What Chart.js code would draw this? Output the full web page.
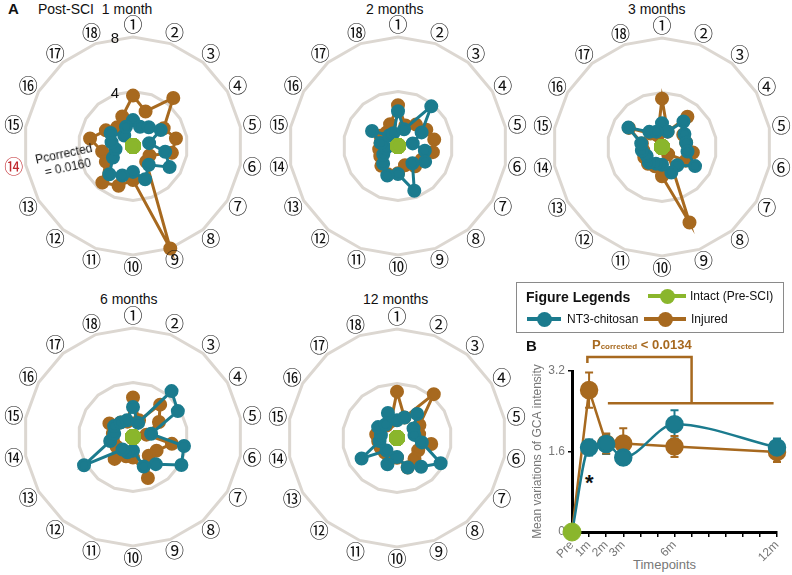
<!DOCTYPE html>
<html>
<head>
<meta charset="utf-8">
<script src="https://cdn.jsdelivr.net/npm/chart.js@4.4.0/dist/chart.umd.min.js"></script>
<style>
body { margin: 0; width: 792px; height: 575px; position: relative; overflow: hidden; background: #fff;
       font-family: "Liberation Sans", Arial, sans-serif; color: #111; }
.abs { position: absolute; white-space: nowrap; }
.ttl { position: absolute; font-size: 14px; white-space: nowrap; }
.radar { position: absolute; width: 270px; height: 270px; }
#legend { position: absolute; left: 516px; top: 282px; width: 266px; height: 49px; border: 1px solid #8a8a8a; }
.swatch { position: absolute; height: 4px; }
.swatch i { position: absolute; left: 50%; top: 50%; width: 15px; height: 15px; margin: -7.5px 0 0 -7.5px; border-radius: 50%; }
.lg { position: absolute; font-size: 12px; }
</style>
</head>
<body>

<!-- panel titles -->
<div class="abs" style="left:8px;top:0px;font-size:15px;font-weight:bold">A</div>
<div class="ttl" style="left:38px;top:1px">Post-SCI&nbsp; 1 month</div>
<div class="ttl" style="left:366px;top:1px">2 months</div>
<div class="ttl" style="left:628px;top:1px">3 months</div>
<div class="ttl" style="left:100px;top:291px">6 months</div>
<div class="ttl" style="left:363px;top:291px">12 months</div>

<!-- radar canvases: 270x270, chart area padded so the outer ring sits at r = 109 -->
<div class="radar" style="left:-2px;top:11px"><canvas id="r1" width="270" height="270"></canvas></div>
<div class="radar" style="left:263px;top:11px"><canvas id="r2" width="270" height="270"></canvas></div>
<div class="radar" style="left:527px;top:12px"><canvas id="r3" width="270" height="270"></canvas></div>
<div class="radar" style="left:-2px;top:302px"><canvas id="r6" width="270" height="270"></canvas></div>
<div class="radar" style="left:262px;top:303px"><canvas id="r12" width="270" height="270"></canvas></div>

<div class="abs" style="left:34px;top:153px;font-size:12px;line-height:14px;transform:rotate(-12deg);transform-origin:left top">Pcorrected<br>&nbsp;&nbsp;= 0.0160</div>

<!-- legend -->
<div id="legend">
  <div class="abs" style="left:9px;top:6px;font-size:14px;font-weight:bold">Figure Legends</div>
  <div class="swatch" style="left:131px;top:11px;width:38px;background:#8ab62c"><i style="background:#8ab62c"></i></div>
  <div class="lg" style="left:173px;top:6px">Intact (Pre-SCI)</div>
  <div class="swatch" style="left:10px;top:34px;width:34px;background:#1b7b8e"><i style="background:#1b7b8e"></i></div>
  <div class="lg" style="left:50px;top:29px">NT3-chitosan</div>
  <div class="swatch" style="left:127px;top:34px;width:42px;background:#a7691f"><i style="background:#a7691f"></i></div>
  <div class="lg" style="left:174px;top:29px">Injured</div>
</div>

<div class="abs" style="left:526px;top:337px;font-size:15px;font-weight:bold">B</div>
<div class="abs" style="left:592px;top:337px;font-size:13px;font-weight:bold;color:#a7691f">P<span style="font-size:8px">corrected</span> &lt; 0.0134</div>
<div class="abs" style="left:585px;top:470px;font-size:22px;font-weight:bold">*</div>
<div class="abs" style="left:633px;top:557px;font-size:13px;color:#777">Timepoints</div>

<div class="abs" style="left:500px;top:330px;width:292px;height:245px"><canvas id="lineB" width="292" height="245"></canvas></div>

<script>
// ==============================
// DATA
// ==============================
const spokeLabels = ['①','②','③','④','⑤','⑥','⑦','⑧','⑨','⑩','⑪','⑫','⑬','⑭','⑮','⑯','⑰','⑱'];
const intactVals = [0, 0, 0, 0, 0, 0, 0, 0, 0, 0, 0, 0, 0, 0, 0, 0, 0, 0];

const injured1m  = [3.7, 2.7, 4.6, 2.6, 3.2, 2.9, 1.4, 1.5, 8.0, 2.5, 3.1, 3.5, 2.3, 2.3, 3.2, 2.3, 1.8, 2.3];
const nt3_1m     = [1.9, 1.5, 1.8, 2.35, 1.2, 2.4, 3.1, 1.8, 2.6, 1.9, 2.3, 2.7, 1.7, 1.3, 1.6, 1.9, 1.0, 1.5];
const injured2m  = [3.0, 1.6, 2.05, 2.4, 2.7, 2.6, 2.0, 1.95, 1.5, 2.0, 2.2, 1.9, 1.5, 1.4, 1.3, 1.5, 1.3, 1.7];
const nt3_2m     = [2.55, 1.3, 3.8, 2.0, 1.1, 2.0, 2.3, 1.65, 3.5, 2.05, 2.3, 1.7, 1.25, 0.9, 1.3, 2.2, 1.0, 1.0];
const injured3m  = [3.55, 1.2, 2.9, 1.8, 1.8, 2.3, 2.0, 0.7, 5.9, 2.15, 1.5, 1.6, 1.5, 1.4, 1.5, 2.8, 1.3, 0.9];
const nt3_3m     = [1.75, 1.2, 2.45, 1.9, 1.8, 1.9, 2.8, 1.75, 2.0, 1.3, 1.3, 1.5, 1.3, 1.5, 1.55, 2.85, 1.45, 1.2];
const injured6m  = [2.9, 1.3, 3.1, 2.2, 1.0, 2.9, 2.0, 1.8, 3.2, 1.5, 1.5, 2.1, 1.4, 1.5, 1.5, 2.0, 1.4, 1.2];
const nt3_6m     = [2.2, 1.1, 4.4, 3.8, 1.35, 3.8, 4.1, 2.6, 2.3, 1.0, 1.2, 1.2, 4.15, 1.7, 1.4, 1.6, 1.4, 1.3];
const injured12m = [3.4, 1.6, 4.2, 1.9, 1.65, 2.55, 1.8, 2.0, 2.3, 1.45, 1.5, 1.4, 1.4, 1.4, 1.55, 1.4, 1.2, 1.3];
const nt3_12m    = [1.3, 1.6, 2.3, 1.4, 1.3, 1.85, 3.7, 2.75, 2.3, 1.4, 2.05, 1.2, 3.0, 1.3, 1.2, 1.6, 1.3, 1.95];

// panel B
const timeMonths   = [0, 1, 2, 3, 6, 12];
const timeNames    = ['Pre', '1m', '2m', '3m', '6m', '12m'];
const injuredMean  = [0, 2.82, 1.76, 1.76, 1.70, 1.59];
const injuredErr   = [0, 0.35, 0.2, 0.3, 0.21, 0.2];
const nt3Mean      = [0, 1.68, 1.75, 1.48, 2.14, 1.68];
const nt3Err       = [0, 0.16, 0.2, 0.15, 0.28, 0.18];
const intactMean   = [0];
const bracketX     = [0.9, 0.9, 7.0, 7.0];
const bracketY     = [3.36, 3.48, 3.48, 2.56];
const bracketBaseX = [2.1, 11.8];

const TEAL = '#1b7b8e', BROWN = '#a7691f', GREEN = '#8ab62c', RING = '#dcd7d1';

// ==============================
// RADAR CHARTS
// ==============================
// circled spoke labels, centred on each spoke just outside the outer ring,
// plus the "4" / "8" ring values on the first panel
const spokeText = {
  id: 'spokeText',
  afterDraw(chart, args, opts) {
    const s = chart.scales.r, ctx = chart.ctx;
    ctx.save();
    ctx.textAlign = 'center';
    ctx.textBaseline = 'middle';
    ctx.font = '19px "Noto Sans CJK JP", "DejaVu Sans", sans-serif';
    chart.data.labels.forEach((lbl, i) => {
      const p = s.getPointPosition(i, s.drawingArea + 12);
      ctx.fillStyle = (opts.highlight && i === 13) ? '#c0282d' : '#111';
      ctx.fillText(lbl, p.x, p.y);
    });
    if (opts.highlight) {
      ctx.font = '15px "Liberation Sans", Arial, sans-serif';
      ctx.fillStyle = '#111';
      s.ticks.forEach(t => {
        if (t.value === 0) return;
        const d = s.getDistanceFromCenterForValue(t.value);
        ctx.fillText(String(t.value), s.xCenter - 18, s.yCenter - d + 2);
      });
    }
    ctx.restore();
  }
};

function makeRadar(id, injured, nt3, highlight) {
  const pt = (color, r) => ({
    borderColor: color, backgroundColor: color, pointBackgroundColor: color,
    pointBorderColor: color, pointRadius: r, borderWidth: 3, fill: false
  });
  new Chart(document.getElementById(id), {
    type: 'radar',
    data: {
      labels: spokeLabels,
      datasets: [
        Object.assign({ label: 'Intact (Pre-SCI)', data: intactVals }, pt(GREEN, 6.5)),
        Object.assign({ label: 'NT3-chitosan', data: nt3 }, pt(TEAL, 5.5)),
        Object.assign({ label: 'Injured', data: injured }, pt(BROWN, 5.5))
      ]
    },
    options: {
      responsive: false,
      animation: false,
      events: [],
      layout: { padding: 26 },
      elements: { line: { tension: 0 } },
      plugins: { legend: { display: false }, tooltip: { enabled: false }, spokeText: { highlight: highlight } },
      scales: {
        r: {
          min: 0, max: 8,
          ticks: { display: false, stepSize: 4 },
          grid: { color: RING, lineWidth: 3 },
          angleLines: { display: false },
          pointLabels: { display: false }
        }
      }
    },
    plugins: [spokeText]
  });
}

makeRadar('r1', injured1m, nt3_1m, true);
makeRadar('r2', injured2m, nt3_2m, false);
makeRadar('r3', injured3m, nt3_3m, false);
makeRadar('r6', injured6m, nt3_6m, false);
makeRadar('r12', injured12m, nt3_12m, false);

// ==============================
// PANEL B
// ==============================
const errorBars = {
  id: 'errorBars',
  beforeDatasetsDraw(chart) {
    const { ctx, scales: { x, y } } = chart;
    chart.data.datasets.forEach(ds => {
      if (!ds.errors) return;
      ctx.save();
      ctx.strokeStyle = ds.borderColor;
      ctx.lineWidth = 2;
      ds.data.forEach((p, i) => {
        const e = ds.errors[i];
        if (!e) return;
        const px = x.getPixelForValue(p.x);
        const top = y.getPixelForValue(p.y + e), bot = y.getPixelForValue(p.y - e);
        ctx.beginPath();
        ctx.moveTo(px, top); ctx.lineTo(px, bot);
        ctx.moveTo(px - 4, top); ctx.lineTo(px + 4, top);
        ctx.moveTo(px - 4, bot); ctx.lineTo(px + 4, bot);
        ctx.stroke();
      });
      ctx.restore();
    });
  },
  afterDraw(chart) {
    const { ctx, scales: { x, y } } = chart;
    ctx.save();
    ctx.strokeStyle = BROWN;
    ctx.lineWidth = 2.5;
    ctx.beginPath();
    bracketX.forEach((v, i) => {
      const px = x.getPixelForValue(v), py = y.getPixelForValue(bracketY[i]);
      if (i === 0) ctx.moveTo(px, py); else ctx.lineTo(px, py);
    });
    ctx.moveTo(x.getPixelForValue(bracketBaseX[0]), y.getPixelForValue(bracketY[3]));
    ctx.lineTo(x.getPixelForValue(bracketBaseX[1]), y.getPixelForValue(bracketY[3]));
    ctx.stroke();
    ctx.restore();
  }
};

const toPts = arr => arr.map((v, i) => ({ x: timeMonths[i], y: v }));

new Chart(document.getElementById('lineB'), {
  type: 'line',
  data: {
    datasets: [
      { label: 'Intact (Pre-SCI)', data: toPts(intactMean), borderColor: GREEN, backgroundColor: GREEN,
        pointRadius: 9, showLine: false, clip: false },
      { label: 'NT3-chitosan', data: toPts(nt3Mean), errors: nt3Err, borderColor: TEAL, backgroundColor: TEAL,
        borderWidth: 2.5, pointRadius: [0, 8, 8, 8, 8, 8], cubicInterpolationMode: 'monotone', clip: false },
      { label: 'Injured', data: toPts(injuredMean), errors: injuredErr, borderColor: BROWN, backgroundColor: BROWN,
        borderWidth: 2.5, pointRadius: [0, 8, 8, 8, 8, 8], tension: 0, clip: false }
    ]
  },
  options: {
    responsive: false,
    animation: false,
    events: [],
    layout: { padding: { top: 41, right: 15, left: 0, bottom: 0 } },
    plugins: { legend: { display: false }, tooltip: { enabled: false } },
    scales: {
      x: {
        type: 'linear', min: 0, max: 12,
        afterFit: s => { s.height = 43; },
        ticks: {
          stepSize: 1, autoSkip: false, maxRotation: 45, minRotation: 45,
          color: '#777', font: { size: 12 }, padding: 1,
          callback: v => { const i = timeMonths.indexOf(v); return i >= 0 ? timeNames[i] : ''; }
        },
        grid: { drawOnChartArea: false, drawTicks: true, tickLength: 5, color: '#000', lineWidth: 1.5 },
        border: { color: '#000', width: 3 }
      },
      y: {
        min: 0, max: 3.2,
        afterFit: s => { s.width = 72; },
        afterBuildTicks: s => { s.ticks = [{ value: 0 }, { value: 1.6 }, { value: 3.2 }]; },
        ticks: { color: '#777', font: { size: 12 }, padding: 3 },
        grid: { drawOnChartArea: false, drawTicks: true, tickLength: 4, color: '#000', lineWidth: 1.5 },
        border: { color: '#000', width: 3 },
        title: { display: true, text: 'Mean variations of GCA intensity', color: '#777',
                 font: { size: 12 }, padding: { top: 30, bottom: 0 } }
      }
    }
  },
  plugins: [errorBars]
});
</script>
</body>
</html>
